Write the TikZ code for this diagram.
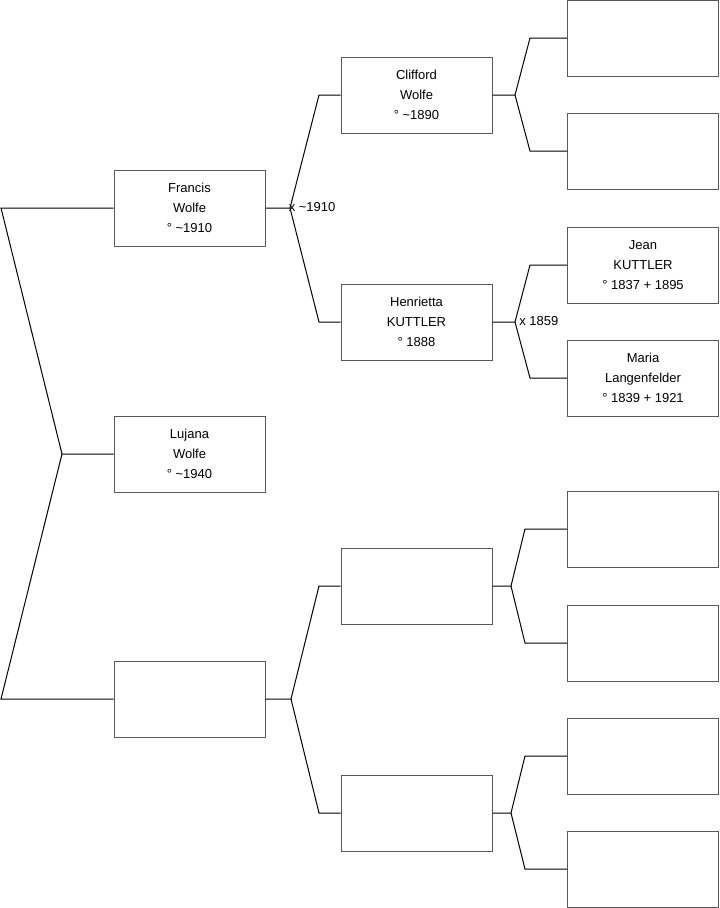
\documentclass[tikz,border=0pt]{standalone}
\usepackage{fontspec}
\setmainfont{Liberation Sans}
\usetikzlibrary{positioning, calc}

\tikzset{
  person/.style={draw=black!65, line width=0.75pt, minimum width=113.25pt,
    minimum height=57pt, inner sep=0pt, align=center,
    font=\fontsize{9.75pt}{15pt}\selectfont},
  link/.style={draw=black, line width=0.75pt},
  wedding/.style={anchor=west, inner sep=0pt, font=\fontsize{9.75pt}{12pt}\selectfont}
}

\begin{document}
\begin{tikzpicture}[x=0.75pt, y=-0.75pt]
        \useasboundingbox (0,0) rectangle (719,908);

        % ===================================================
        % 1. GENERATION 1 (proband and her parents)
        % ===================================================
        \node[person] (francis) at (189.5, 208) {Francis\\Wolfe\\° \textasciitilde1910};
        \node[person] (lujana)  at (189.5, 454) {Lujana\\Wolfe\\° \textasciitilde1940};
        \node[person] (mother)  at (189.5, 699) {};

        % ===================================================
        % 2. GENERATION 2 (grandparents)
        % ===================================================
        \node[person] (clifford)  at (416.5, 95)  {Clifford\\Wolfe\\° \textasciitilde1890};
        \node[person] (henrietta) at (416.5, 322) {Henrietta\\KUTTLER\\° 1888};
        \node[person] (gfM)       at (416.5, 586) {};
        \node[person] (gmM)       at (416.5, 813) {};

        % ===================================================
        % 3. GENERATION 3 (great-grandparents)
        % ===================================================
        \node[person] (ggA) at (643, 38)  {};
        \node[person] (ggB) at (643, 151) {};
        \node[person] (jean)  at (643, 265) {Jean\\KUTTLER\\° 1837 + 1895};
        \node[person] (maria) at (643, 378) {Maria\\Langenfelder\\° 1839 + 1921};
        \node[person] (ggE) at (643, 529) {};
        \node[person] (ggF) at (643, 643) {};
        \node[person] (ggG) at (643, 756) {};
        \node[person] (ggH) at (643, 869) {};

        % ===================================================
        % 4. CONNECTORS
        % ===================================================

        % Lujana to her parents (bracket opening to the left)
        \coordinate (jL)  at (62, 454);
        \coordinate (jL1) at (1, 208);
        \coordinate (jL2) at (1, 699);
        \draw[link] (lujana.west) -- (jL) -- (jL1) -- (francis.west);
        \draw[link] (jL) -- (jL2) -- (mother.west);

        % Francis to his parents
        \coordinate (jF)  at (290, 208);
        \coordinate (jF1) at (319, 95);
        \coordinate (jF2) at (319, 322);
        \draw[link] (francis.east) -- (jF) -- (jF1) -- (clifford.west);
        \draw[link] (jF) -- (jF2) -- (henrietta.west);
        \node[wedding] (wF) at (288.5, 207) {x \textasciitilde1910};

        % Mother's side
        \coordinate (jM)  at (291, 699);
        \coordinate (jM1) at (319, 586);
        \coordinate (jM2) at (319, 813);
        \draw[link] (mother.east) -- (jM) -- (jM1) -- (gfM.west);
        \draw[link] (jM) -- (jM2) -- (gmM.west);

        % Clifford to his parents
        \coordinate (jC)  at (515, 95);
        \coordinate (jC1) at (530, 38);
        \coordinate (jC2) at (530, 151);
        \draw[link] (clifford.east) -- (jC) -- (jC1) -- (ggA.west);
        \draw[link] (jC) -- (jC2) -- (ggB.west);

        % Henrietta to Jean and Maria
        \coordinate (jH)  at (515, 322);
        \coordinate (jH1) at (530, 265);
        \coordinate (jH2) at (530, 378);
        \draw[link] (henrietta.east) -- (jH) -- (jH1) -- (jean.west);
        \draw[link] (jH) -- (jH2) -- (maria.west);
        \node[wedding] (wH) at (519, 321) {x 1859};

        % Lower grandparents to their parents
        \coordinate (jG)  at (511, 586);
        \coordinate (jG1) at (525, 529);
        \coordinate (jG2) at (525, 643);
        \draw[link] (gfM.east) -- (jG) -- (jG1) -- (ggE.west);
        \draw[link] (jG) -- (jG2) -- (ggF.west);

        \coordinate (jK)  at (511, 813);
        \coordinate (jK1) at (525, 756);
        \coordinate (jK2) at (525, 869);
        \draw[link] (gmM.east) -- (jK) -- (jK1) -- (ggG.west);
        \draw[link] (jK) -- (jK2) -- (ggH.west);

    \end{tikzpicture}
\end{document}
